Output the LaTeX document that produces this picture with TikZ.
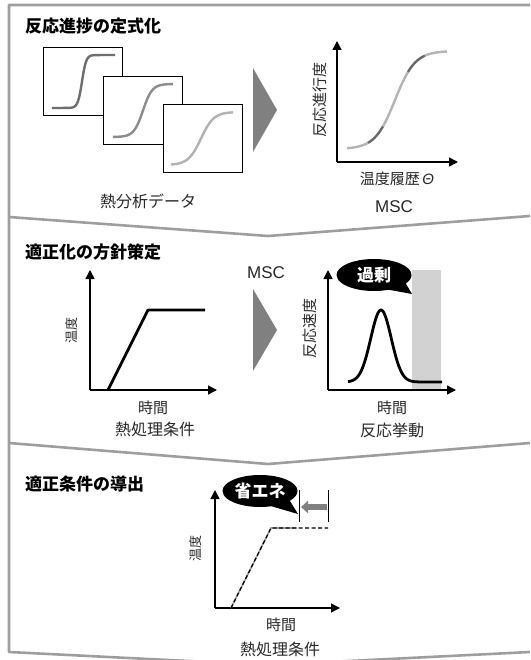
\documentclass[tikz,border=0pt]{standalone}
\usepackage{fontspec}
\setmainfont{Noto Sans CJK JP}
\newfontfamily\lat{Liberation Sans}
\usetikzlibrary{arrows.meta,shapes.callouts}
\definecolor{framegray}{RGB}{158,158,158}
\definecolor{arrowgray}{RGB}{128,128,128}
\definecolor{cA}{RGB}{110,110,110}
\definecolor{cB}{RGB}{140,140,140}
\definecolor{cC}{RGB}{178,178,178}
\definecolor{mlight}{RGB}{180,180,180}
\definecolor{mdark}{RGB}{105,105,105}
\definecolor{bandgray}{RGB}{210,210,210}
\definecolor{txt}{RGB}{40,40,40}
\begin{document}
\begin{tikzpicture}[x=1pt,y=-1pt,
  frame/.style={draw=framegray,line width=2.6pt,line join=round},
  databox/.style={draw=black,line width=0.9pt,fill=white,minimum width=79pt,minimum height=68pt,inner sep=0pt,anchor=north west},
  axis/.style={line width=1.4pt,-{Triangle[length=9pt,width=9pt]}},
  lbl/.style={text=txt,font=\fontsize{16}{18}\selectfont,inner sep=0pt},
  axl/.style={text=txt,font=\fontsize{15}{17}\selectfont,inner sep=0pt},
  ttl/.style={font=\fontsize{17}{19}\selectfont\bfseries,anchor=west,inner sep=0pt},
  bubble/.style={ellipse callout,fill=black,text=white,font=\fontsize{17}{19}\selectfont\bfseries,minimum width=75pt,minimum height=32pt,inner sep=0pt,callout pointer arc=35},
  curve/.style={line width=2.4pt},
  thick curve/.style={line width=2.8pt,line join=round}
]
\useasboundingbox (0,0) rectangle (530,660);
% frame and separators
\draw[frame] (530,5) -- (9,5) -- (9,652) -- (268,665) -- (530,652);
\draw[frame] (9,217) -- (268,236) -- (530,216);
\draw[frame] (9,443) -- (268,464) -- (530,443);

% ---------- section 1 ----------
\node[ttl] (t1) at (25,26) {反応進捗の定式化};
\node[databox] (d1) at (43,47) {};
\draw[curve,cA] (52,108) -- plot[domain=68:96,samples=60] (\x,{108-53/(1+exp(-(\x-82)/2.1))}) -- (115,55);
\node[databox] (d2) at (103,76) {};
\draw[curve,cB] plot[domain=113:173,samples=80] (\x,{137-53/(1+exp(-(\x-143)/4.6))});
\node[databox] (d3) at (163,104) {};
\draw[curve,cC] plot[domain=171:233,samples=80] (\x,{165-53/(1+exp(-(\x-201)/6.4))});
\node[lbl] (l1) at (148,201) {熱分析データ};

\fill[arrowgray] (253,68) -- (253,152) -- (277,110) -- cycle;

\coordinate (o1) at (337,162);
\coordinate (y1) at (337,41);
\coordinate (x1) at (458,162);
\draw[axis] (o1) -- (y1);
\draw[axis] (o1) -- (x1);
\draw[curve,mlight] plot[domain=347:368,samples=20] (\x,{149-98/(1+exp(-(\x-395)/10))});
\draw[curve,mdark] plot[domain=368:383,samples=20] (\x,{149-98/(1+exp(-(\x-395)/10))});
\draw[curve,mlight] plot[domain=383:408,samples=25] (\x,{149-98/(1+exp(-(\x-395)/10))});
\draw[curve,mdark] plot[domain=408:425,samples=20] (\x,{149-98/(1+exp(-(\x-395)/10))});
\draw[curve,mlight] plot[domain=425:447,samples=20] (\x,{149-98/(1+exp(-(\x-395)/10))});
\node[axl,rotate=90] (yl1) at (320,100) {反応進行度};
\node[axl] (xl1) at (397,179) {温度履歴\,{\lat\itshape Θ}};
\node[lbl,font=\lat\fontsize{17}{19}\selectfont] (msc1) at (394,207) {MSC};

% ---------- section 2 ----------
\node[ttl] (t2) at (25,252) {適正化の方針策定};
\coordinate (o2) at (90,390);
\draw[axis] (o2) -- (90,270);
\draw[axis] (o2) -- (217,390);
\draw[thick curve] (108,390) -- (148,310) -- (205,310);
\node[axl,font=\fontsize{13}{15}\selectfont,rotate=90] (yl2) at (72,330) {温度};
\node[axl] (xl2) at (153,408) {時間};
\node[lbl] (l2) at (155,429) {熱処理条件};

\node[lbl,font=\lat\fontsize{17}{19}\selectfont] (msc2) at (266,273) {MSC};
\fill[arrowgray] (253,289) -- (253,371) -- (277,330) -- cycle;

\fill[bandgray] (412,270) rectangle (441,390);
\coordinate (o3) at (328,390);
\draw[axis] (o3) -- (328,270);
\draw[axis] (o3) -- (456,390);
\draw[thick curve] plot[domain=348:442,samples=120] (\x,{382-72*exp(-((\x-381)/14.5)^2)});
\node[axl,rotate=90] (yl3) at (310,328) {反応速度};
\node[axl] (xl3) at (392,408) {時間};
\node[lbl] (l3) at (392,430) {反応挙動};
\node[bubble,callout absolute pointer={(412,294)}] (b1) at (374,275) {過剰};

% ---------- section 3 ----------
\node[ttl] (t3) at (25,484) {適正条件の導出};
\coordinate (o4) at (215,608);
\draw[axis] (o4) -- (215,490);
\draw[axis] (o4) -- (340,608);
\draw[line width=1.7pt,color=framegray] (231,608) -- (271,528) -- (297,528);
\draw[line width=1.2pt,dash pattern=on 4pt off 2.5pt] (231,608) -- (271,528) -- (328,528);
\node[axl,font=\fontsize{13}{15}\selectfont,rotate=90] (yl4) at (196,548) {温度};
\node[axl] (xl4) at (281,625) {時間};
\node[lbl] (l4) at (280,649) {熱処理条件};
\node[bubble,callout absolute pointer={(298,514)}] (b2) at (260,491) {省エネ};
\coordinate (v1t) at (299,490);
\coordinate (v1b) at (299,522);
\coordinate (v2t) at (328,490);
\coordinate (v2b) at (328,522);
\draw[line width=0.8pt] (v1t) -- (v1b);
\draw[line width=0.8pt] (v2t) -- (v2b);
\draw[line width=6pt,arrowgray,-{Triangle[length=7pt,width=12pt]}] (327,507) -- (301,507);
\end{tikzpicture}
\end{document}
